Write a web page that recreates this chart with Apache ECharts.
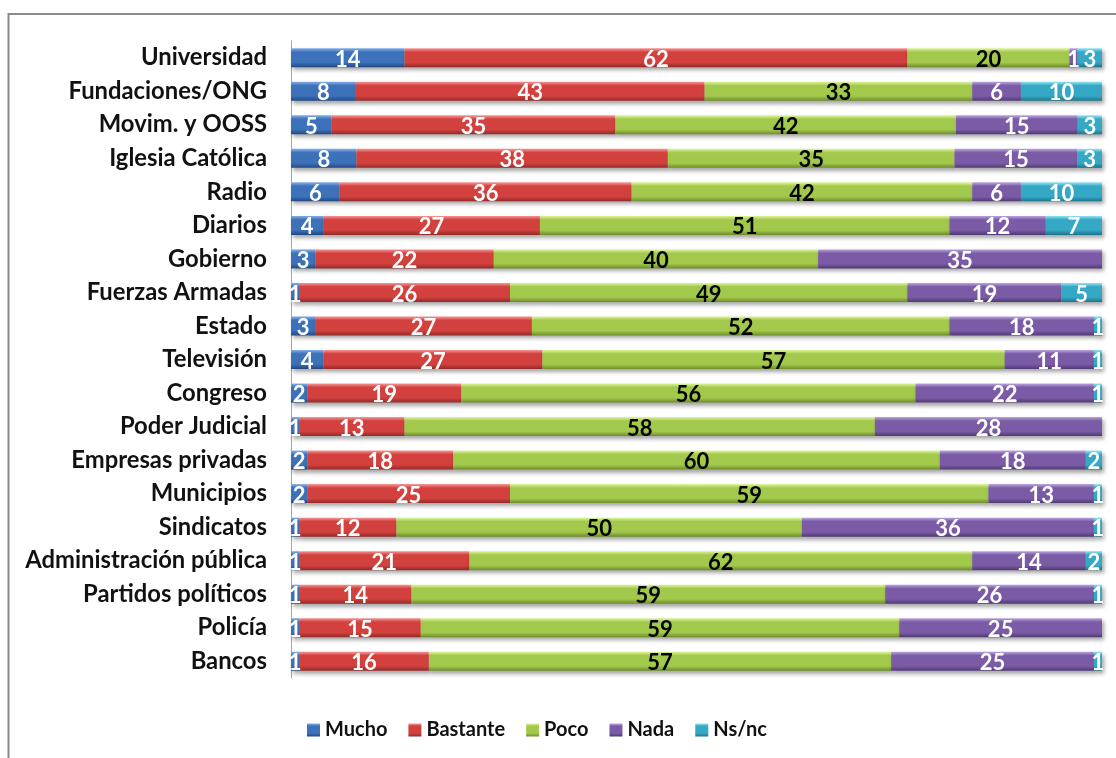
<!DOCTYPE html>
<html>
<head>
<meta charset="utf-8">
<title>Confianza en instituciones</title>
<script src="https://cdn.jsdelivr.net/npm/echarts@6/dist/echarts.min.js"></script>
<style>
  html, body { margin: 0; padding: 0; background: #ffffff; }
  #chart { width: 1116px; height: 758px; }
</style>
</head>
<body>
<div id="chart"></div>
<script>
// Institutions, top to bottom
const categories = [
  'Universidad', 'Fundaciones/ONG', 'Movim. y OOSS', 'Iglesia Católica', 'Radio',
  'Diarios', 'Gobierno', 'Fuerzas Armadas', 'Estado', 'Televisión', 'Congreso',
  'Poder Judicial', 'Empresas privadas', 'Municipios', 'Sindicatos',
  'Administración pública', 'Partidos políticos', 'Policía', 'Bancos'
];

// Level of trust, percent of answers
const mucho    = [14, 8, 5, 8, 6, 4, 3, 1, 3, 4, 2, 1, 2, 2, 1, 1, 1, 1, 1];
const bastante = [62, 43, 35, 38, 36, 27, 22, 26, 27, 27, 19, 13, 18, 25, 12, 21, 14, 15, 16];
const poco     = [20, 33, 42, 35, 42, 51, 40, 49, 52, 57, 56, 58, 60, 59, 50, 62, 59, 59, 57];
const nada     = [1, 6, 15, 15, 6, 12, 35, 19, 18, 11, 22, 28, 18, 13, 36, 14, 26, 25, 25];
const nsnc     = [3, 10, 3, 3, 10, 7, 0, 5, 1, 1, 1, 0, 2, 1, 1, 2, 1, 0, 1];

const seriesNames = ['Mucho', 'Bastante', 'Poco', 'Nada', 'Ns/nc'];
const seriesValues = [mucho, bastante, poco, nada, nsnc];

// Bevelled fills: light top edge, base body, darker bottom edge
const palette = [
  { top: '#86b0ea', base: '#3d71b9', bottom: '#1f4883' },
  { top: '#f79896', base: '#d2413e', bottom: '#932a28' },
  { top: '#def59c', base: '#a3c94c', bottom: '#6d8d2a' },
  { top: '#bba6e0', base: '#7b5ba6', bottom: '#503976' },
  { top: '#95e4f5', base: '#35a8c5', bottom: '#1b758c' }
];
const labelColors = ['#ffffff', '#ffffff', '#000000', '#ffffff', '#ffffff'];

function bevel(c) {
  return new echarts.graphic.LinearGradient(0, 0, 0, 1, [
    { offset: 0, color: c.top },
    { offset: 0.2, color: c.base },
    { offset: 0.75, color: c.base },
    { offset: 1, color: c.bottom }
  ]);
}

// Each row is shown as a share of its own total (100% stacked)
const totals = categories.map((_, i) =>
  seriesValues.reduce((s, arr) => s + arr[i], 0));

const FONT = 'Lato';

const series = seriesNames.map((name, k) => ({
  name: name,
  type: 'bar',
  stack: 'total',
  barWidth: 19,
  data: seriesValues[k].map((v, i) => v / totals[i] * 100),
  itemStyle: {
    color: bevel(palette[k]),
    shadowColor: 'rgba(0,0,0,0.35)',
    shadowBlur: 4,
    shadowOffsetX: 2,
    shadowOffsetY: 3
  },
  label: {
    show: true,
    position: 'inside',
    offset: [0, 2],
    color: labelColors[k],
    fontFamily: FONT,
    fontWeight: 'bold',
    fontSize: 22,
    formatter: p => {
      const raw = seriesValues[k][p.dataIndex];
      return raw ? String(raw) : '';
    }
  },
  emphasis: { disabled: true }
}));

const chart = echarts.init(document.getElementById('chart'), null, { renderer: 'canvas' });
chart.setOption({
  animation: false,
  backgroundColor: '#ffffff',
  graphic: [{
    type: 'rect',
    shape: { x: 8.5, y: 14, width: 1120, height: 760 },
    style: { fill: 'none', stroke: '#8a8a8a', lineWidth: 2 },
    silent: true,
    z: -1
  }],
  grid: { left: 291, right: 14, top: 41, bottom: 80 },
  xAxis: {
    type: 'value',
    min: 0,
    max: 100,
    show: false
  },
  yAxis: {
    type: 'category',
    inverse: true,
    data: categories,
    axisLine: { show: true, lineStyle: { color: '#a6a6a6', width: 1 } },
    axisTick: { show: false },
    axisLabel: {
      margin: 24,
      color: '#111111',
      fontFamily: FONT,
      fontWeight: 'bold',
      fontSize: 23.8
    }
  },
  legend: {
    data: seriesNames,
    left: 302,
    top: 715,
    itemWidth: 13,
    itemHeight: 13,
    itemGap: 21,
    icon: 'rect',
    textStyle: {
      color: '#111111',
      fontFamily: FONT,
      fontWeight: 'bold',
      fontSize: 20
    }
  },
  series: series
});
</script>
</body>
</html>
